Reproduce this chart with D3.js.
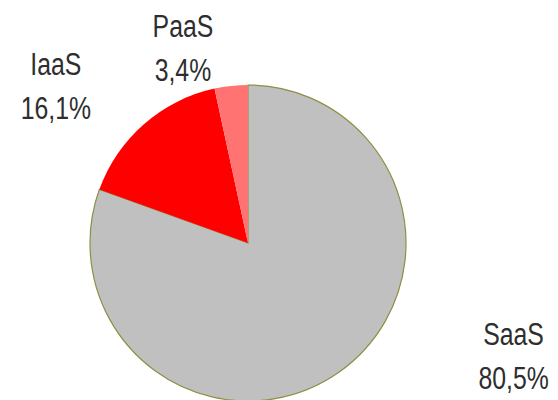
<!DOCTYPE html>
<html>
<head>
<meta charset="utf-8">
<script src="https://cdn.jsdelivr.net/npm/d3@7"></script>
<style>
  html, body { margin: 0; padding: 0; background: #fff; }
  .label { font-family: "Liberation Sans", Arial, sans-serif; font-size: 31px; fill: #2e2e2e; }
</style>
</head>
<body>
<svg class="chart"></svg>
<script>
// Cloud service model shares (%), clockwise from 12 o'clock.
var categories = ['SaaS', 'IaaS', 'PaaS'];
var shares = [80.5, 16.1, 3.4];

var sliceColors = {
  'SaaS': '#c0c0c0',
  'IaaS': '#ff0000',
  'PaaS': '#ff7373',
};
var sliceStroke = {
  'SaaS': '#8f8f45',
  'IaaS': 'none',
  'PaaS': 'none',
};

// Excel-style label placement: shift from the radial anchor point.
var labelNudge = {
  'SaaS': [152, -60],
  'IaaS': [-62, -19],
  'PaaS': [-44, -10],
};

var chartWidth = 558;
var chartHeight = 400;
var cx = 248;
var cy = 243;
var radius = 158;
var lineGap = 44;

var locale = d3.formatLocale({decimal: ',', thousands: '.', grouping: [3], currency: ['', '']});
var pct = locale.format('.1f');

var rows = categories.map((c, i) => ({name: c, value: shares[i]}));

var pie = d3.pie().sort(null).value(d => d.value);
var arc = d3.arc().innerRadius(0).outerRadius(radius);
var labelArc = d3.arc().innerRadius(radius * 1.25).outerRadius(radius * 1.25);

var chart = d3.select('.chart').attr('width', chartWidth).attr('height', chartHeight);

var g = chart.append('g').attr('transform', 'translate(' + cx + ',' + cy + ')');

g.selectAll('path.slice')
    .data(pie(rows))
    .join('path')
    .attr('class', 'slice')
    .attr('d', arc)
    .style('fill', d => sliceColors[d.data.name])
    .style('stroke', d => sliceStroke[d.data.name])
    .style('stroke-width', 1.2);

var labels = g.selectAll('g.label')
    .data(pie(rows))
    .join('g')
    .attr('class', 'label')
    .attr('transform', d => {
      var p = labelArc.centroid(d);
      var n = labelNudge[d.data.name];
      return 'translate(' + (p[0] + n[0]) + ',' + (p[1] + n[1]) + ') scale(0.8,1)';
    });

var text = labels.append('text')
    .attr('class', 'label')
    .attr('text-anchor', 'middle');
text.append('tspan').attr('x', 0).attr('y', 0).text(d => d.data.name);
text.append('tspan').attr('x', 0).attr('y', lineGap).text(d => pct(d.data.value) + '%');
</script>
</body>
</html>
